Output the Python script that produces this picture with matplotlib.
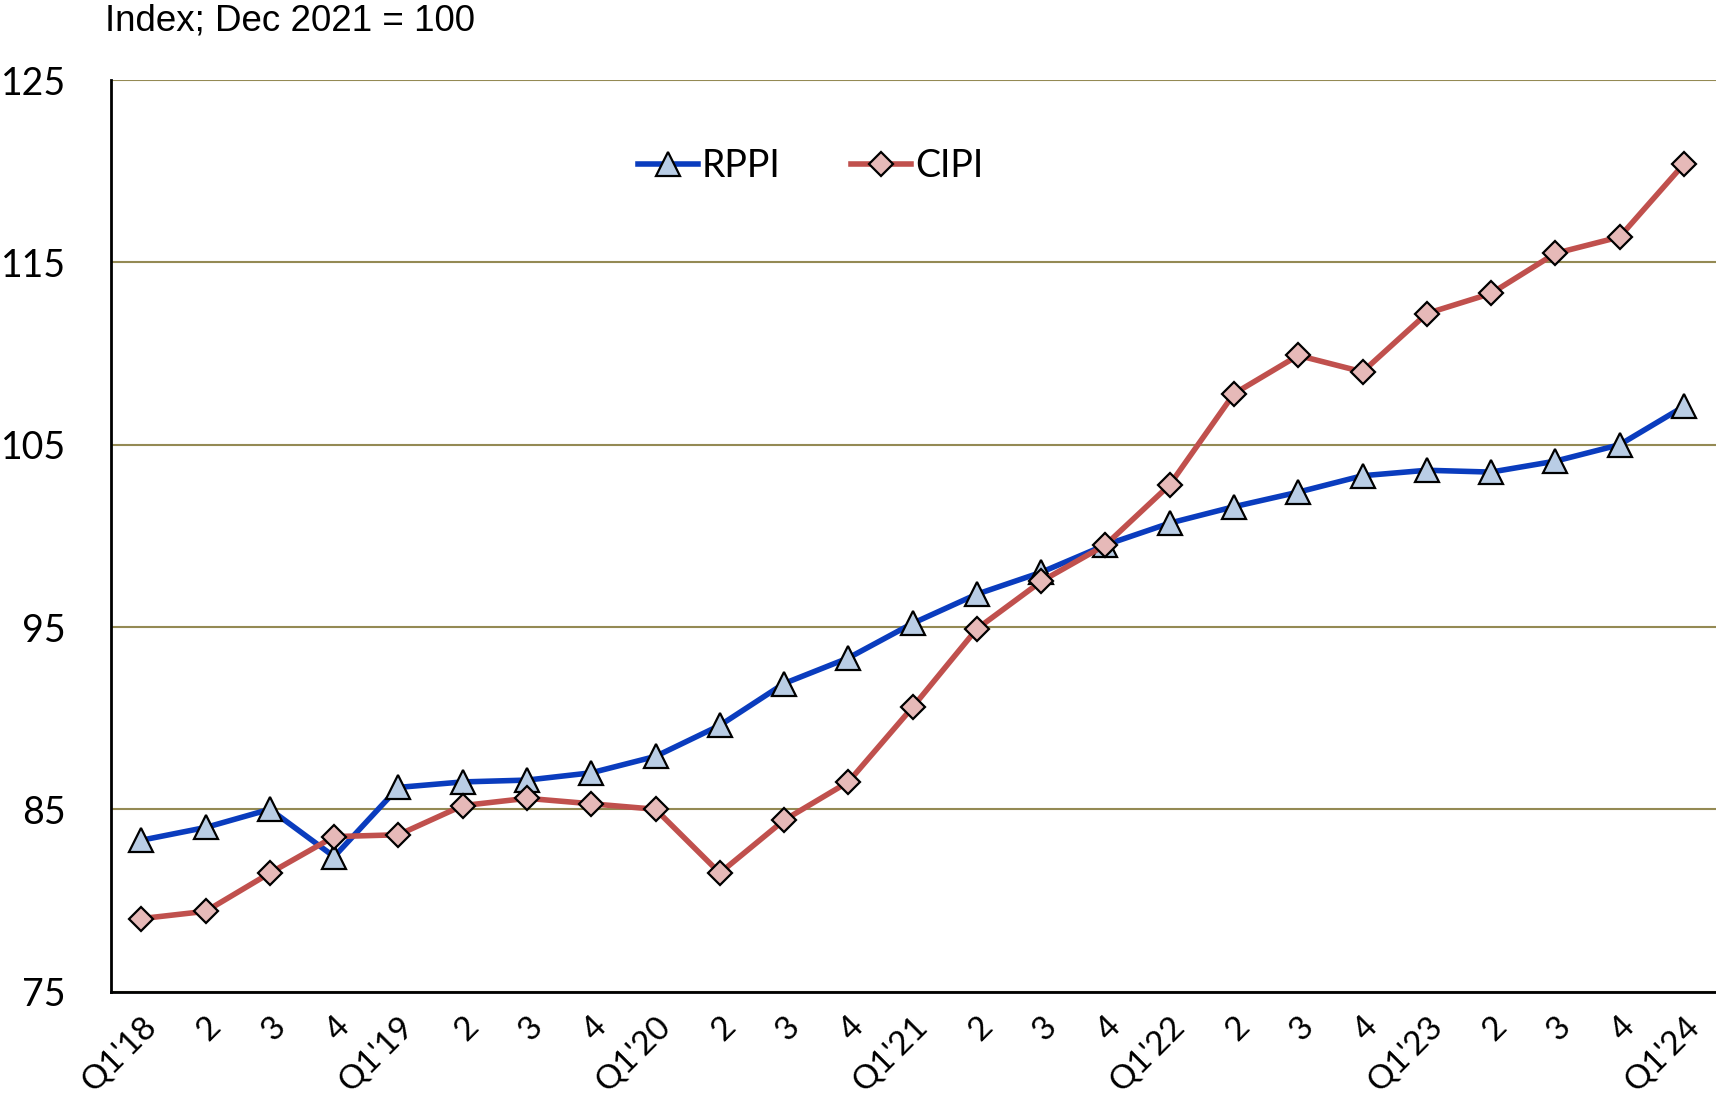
import matplotlib.pyplot as plt

quarters = ["Q1'18", "2", "3", "4", "Q1'19", "2", "3", "4", "Q1'20", "2", "3", "4",
            "Q1'21", "2", "3", "4", "Q1'22", "2", "3", "4", "Q1'23", "2", "3", "4", "Q1'24"]
rppi = [83.3, 84.0, 85.0, 82.4, 86.2, 86.5, 86.6, 87.0, 87.9, 89.6, 91.9, 93.3,
        95.2, 96.8, 98.0, 99.5, 100.7, 101.6, 102.4, 103.3, 103.6, 103.5, 104.1, 105.0, 107.1]
cipi = [79.0, 79.4, 81.5, 83.5, 83.6, 85.2, 85.6, 85.3, 85.0, 81.5, 84.4, 86.5,
        90.6, 94.9, 97.5, 99.5, 102.8, 107.8, 109.9, 109.0, 112.2, 113.3, 115.5, 116.4, 120.4]
yticks = [75, 85, 95, 105, 115, 125]

fig = plt.figure(figsize=(17.16, 10.99), dpi=100)
ax = fig.add_axes([0.0644, 0.0978, 0.9356, 0.8292])
x = range(len(quarters))

ax.plot(x, rppi, color="#0A3CBE", lw=4, marker="^", ms=17, mfc="#B9CDE5",
        mec="black", mew=1.6, label="RPPI", zorder=3)
ax.plot(x, cipi, color="#C0504D", lw=4, marker="D", ms=12, mfc="#E6B9B8",
        mec="black", mew=1.6, label="CIPI", zorder=3)

ax.set_xlim(-0.48, 24.5)
ax.set_ylim(75, 125)
ax.set_yticks(yticks)
ax.set_yticklabels([str(v) for v in yticks], fontsize=27, family="Lato")
ax.set_xticks(list(x))
ax.set_xticklabels(quarters, rotation=45, ha="right", rotation_mode="anchor",
                   fontsize=24, family="Lato")
ax.tick_params(axis="both", length=0)
ax.tick_params(axis="x", pad=14)
ax.tick_params(axis="y", pad=32)

ax.grid(axis="y", color="#948A54", lw=1.5)
ax.set_axisbelow(True)
for s in ["top", "right"]:
    ax.spines[s].set_visible(False)
for s in ["left", "bottom"]:
    ax.spines[s].set_linewidth(2)
    ax.spines[s].set_color("black")

ax.legend(loc="center", bbox_to_anchor=(0.436, 0.906), ncol=2, frameon=False,
          prop={"family": "Lato", "size": 27}, handlelength=1.6,
          columnspacing=1.9, handletextpad=0.1)

fig.text(0.061, 0.981, "Index; Dec 2021 = 100", fontsize=26.5, family="Liberation Sans",
         va="center", ha="left")

fig.savefig("out.png", dpi=100)
